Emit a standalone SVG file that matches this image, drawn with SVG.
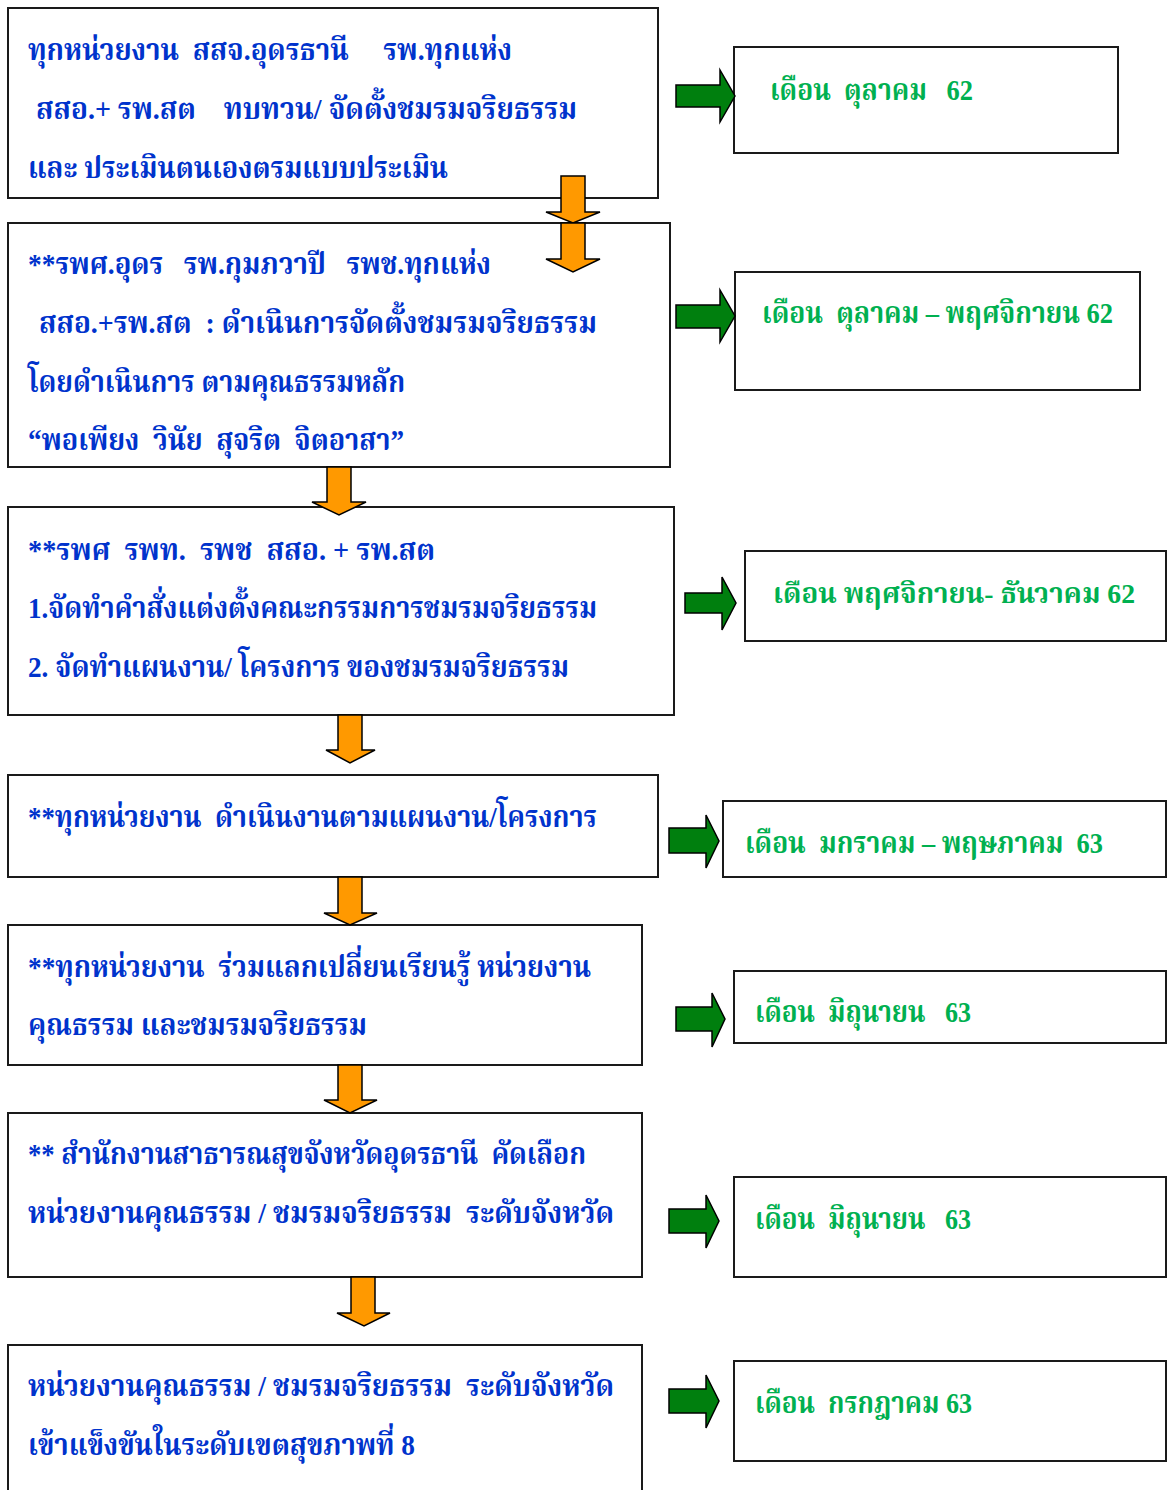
<svg xmlns="http://www.w3.org/2000/svg" width="1168" height="1490" viewBox="0 0 1168 1490">
<style>
.box{fill:#fff;stroke:#1a1a1a;stroke-width:2}
.t{font-family:"Liberation Serif","Noto Serif Thai","Noto Sans Thai",serif;font-weight:bold;font-size:30px;fill:#0033CC;white-space:pre}
.m{font-family:"Liberation Serif","Noto Serif Thai","Noto Sans Thai",serif;font-weight:bold;font-size:30px;fill:#00B050;white-space:pre}
.og{fill:#FF9900;stroke:#000;stroke-width:1.5;stroke-linejoin:miter}
.gr{fill:#007F0E;stroke:#000;stroke-width:1.5;stroke-linejoin:miter}
</style>
<rect width="1168" height="1490" fill="#fff"/>
<g id="step1"><rect class="box" x="8" y="8" width="650" height="190"/>
<text class="t" x="28" y="60" textLength="484" lengthAdjust="spacingAndGlyphs">ทุกหน่วยงาน  สสจ.อุดรธานี     รพ.ทุกแห่ง</text>
<text class="t" x="36" y="119" textLength="541" lengthAdjust="spacingAndGlyphs">สสอ.+ รพ.สต    ทบทวน/ จัดตั้งชมรมจริยธรรม</text>
<text class="t" x="28" y="178" textLength="420" lengthAdjust="spacingAndGlyphs">และ ประเมินตนเองตรมแบบประเมิน</text></g>
<g id="step2"><rect class="box" x="8" y="223" width="662" height="244"/>
<text class="t" x="28" y="274" textLength="463" lengthAdjust="spacingAndGlyphs">**รพศ.อุดร   รพ.กุมภวาปี   รพช.ทุกแห่ง</text>
<text class="t" x="39" y="333" textLength="558" lengthAdjust="spacingAndGlyphs">สสอ.+รพ.สต  : ดำเนินการจัดตั้งชมรมจริยธรรม</text>
<text class="t" x="28" y="392" textLength="377" lengthAdjust="spacingAndGlyphs">โดยดำเนินการ ตามคุณธรรมหลัก</text>
<text class="t" x="28" y="450" textLength="376" lengthAdjust="spacingAndGlyphs">“พอเพียง  วินัย  สุจริต  จิตอาสา”</text></g>
<g id="step3"><rect class="box" x="8" y="507" width="666" height="208"/>
<text class="t" x="28" y="560" textLength="407" lengthAdjust="spacingAndGlyphs">**รพศ  รพท.  รพช  สสอ. + รพ.สต</text>
<text class="t" x="28" y="618" textLength="569" lengthAdjust="spacingAndGlyphs">1.จัดทำคำสั่งแต่งตั้งคณะกรรมการชมรมจริยธรรม</text>
<text class="t" x="28" y="677" textLength="541" lengthAdjust="spacingAndGlyphs">2. จัดทำแผนงาน/ โครงการ ของชมรมจริยธรรม</text></g>
<g id="step4"><rect class="box" x="8" y="775" width="650" height="102"/>
<text class="t" x="28" y="827" textLength="569" lengthAdjust="spacingAndGlyphs">**ทุกหน่วยงาน  ดำเนินงานตามแผนงาน/โครงการ</text></g>
<g id="step5"><rect class="box" x="8" y="925" width="634" height="140"/>
<text class="t" x="28" y="977" textLength="563" lengthAdjust="spacingAndGlyphs">**ทุกหน่วยงาน  ร่วมแลกเปลี่ยนเรียนรู้ หน่วยงาน</text>
<text class="t" x="28" y="1035" textLength="339" lengthAdjust="spacingAndGlyphs">คุณธรรม และชมรมจริยธรรม</text></g>
<g id="step6"><rect class="box" x="8" y="1113" width="634" height="164"/>
<text class="t" x="28" y="1164" textLength="558" lengthAdjust="spacingAndGlyphs">** สำนักงานสาธารณสุขจังหวัดอุดรธานี  คัดเลือก</text>
<text class="t" x="28" y="1223" textLength="586" lengthAdjust="spacingAndGlyphs">หน่วยงานคุณธรรม / ชมรมจริยธรรม  ระดับจังหวัด</text></g>
<g id="step7"><rect class="box" x="8" y="1345" width="634" height="160"/>
<text class="t" x="28" y="1396" textLength="586" lengthAdjust="spacingAndGlyphs">หน่วยงานคุณธรรม / ชมรมจริยธรรม  ระดับจังหวัด</text>
<text class="t" x="28" y="1455" textLength="387" lengthAdjust="spacingAndGlyphs">เข้าแข็งขันในระดับเขตสุขภาพที่ 8</text></g>
<g id="month1"><rect class="box" x="734" y="47" width="384" height="106"/>
<text class="m" x="770" y="100" textLength="203" lengthAdjust="spacingAndGlyphs">เดือน  ตุลาคม   62</text></g>
<g id="month2"><rect class="box" x="735" y="272" width="405" height="118"/>
<text class="m" x="762" y="323" textLength="351" lengthAdjust="spacingAndGlyphs">เดือน  ตุลาคม – พฤศจิกายน 62</text></g>
<g id="month3"><rect class="box" x="745" y="551" width="421" height="90"/>
<text class="m" x="773" y="603" textLength="362" lengthAdjust="spacingAndGlyphs" style="font-size:28px">เดือน พฤศจิกายน- ธันวาคม 62</text></g>
<g id="month4"><rect class="box" x="723" y="801" width="443" height="76"/>
<text class="m" x="745" y="853" textLength="358" lengthAdjust="spacingAndGlyphs">เดือน  มกราคม – พฤษภาคม  63</text></g>
<g id="month5"><rect class="box" x="734" y="971" width="432" height="72"/>
<text class="m" x="755" y="1022" textLength="216" lengthAdjust="spacingAndGlyphs">เดือน  มิถุนายน   63</text></g>
<g id="month6"><rect class="box" x="734" y="1177" width="432" height="100"/>
<text class="m" x="755" y="1229" textLength="216" lengthAdjust="spacingAndGlyphs">เดือน  มิถุนายน   63</text></g>
<g id="month7"><rect class="box" x="734" y="1361" width="432" height="100"/>
<text class="m" x="755" y="1413" textLength="217" lengthAdjust="spacingAndGlyphs">เดือน  กรกฎาคม 63</text></g>
<g id="connectors">
<path class="og" d="M561,176H585V212H600L573,223L546,212H561Z"/>
<path class="og" d="M561,223H585V259H600L573,272L546,259H561Z"/>
<path class="og" d="M327,467H351V502H366L339,515L312,502H327Z"/>
<path class="og" d="M338,715H362V750H375L350,763L326,750H338Z"/>
<path class="og" d="M338,877H362V913H377L350,925L324,913H338Z"/>
<path class="og" d="M338,1065H362V1100H377L350,1113L324,1100H338Z"/>
<path class="og" d="M351,1277H375V1313H390L364,1326L337,1313H351Z"/>
<path class="gr" d="M676,85H720V70L735,96L720,122V107H676Z"/>
<path class="gr" d="M676,305H720V290L735,316L720,342V328H676Z"/>
<path class="gr" d="M685,593H722V577L736,603L722,630V613H685Z"/>
<path class="gr" d="M669,828H706V815L719,841L706,868V853H669Z"/>
<path class="gr" d="M676,1007H712V993L725,1019L712,1047V1031H676Z"/>
<path class="gr" d="M669,1209H706V1195L719,1221L706,1248V1233H669Z"/>
<path class="gr" d="M669,1389H706V1375L719,1401L706,1428V1413H669Z"/>
</g>
</svg>
